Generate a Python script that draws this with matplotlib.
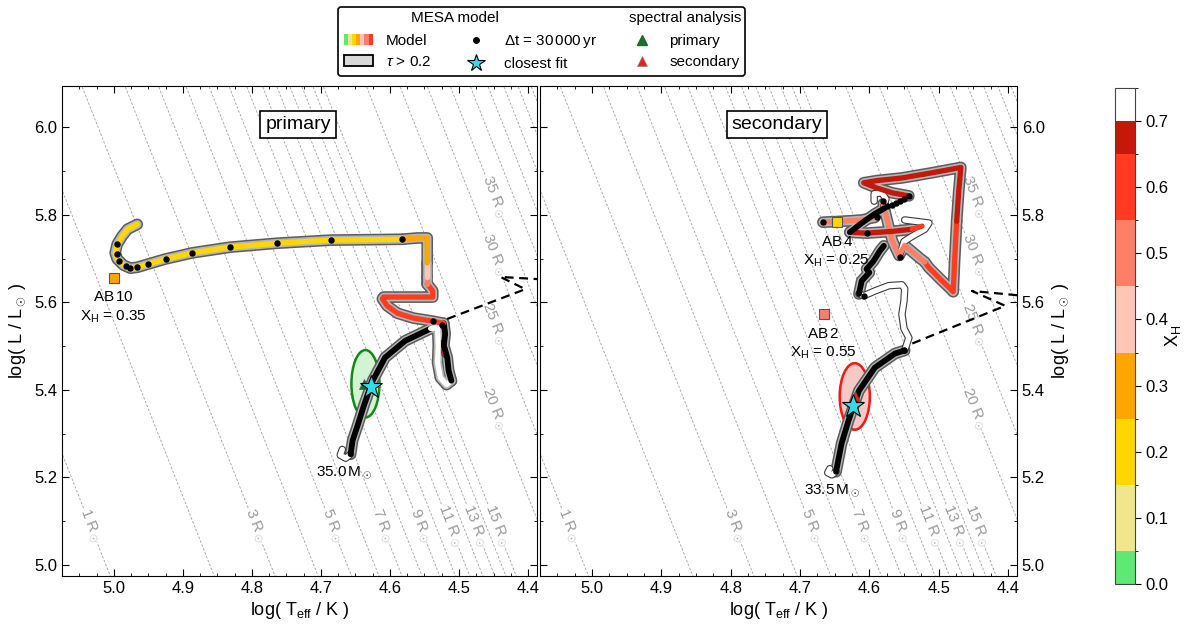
import numpy as np
import matplotlib

matplotlib.use("Agg")
import matplotlib.pyplot as plt
import matplotlib.patheffects as pe
from matplotlib.colors import ListedColormap, BoundaryNorm
from matplotlib.lines import Line2D
from matplotlib.patches import Patch, Ellipse
from matplotlib.legend_handler import HandlerTuple
import matplotlib.colorbar as mcolorbar

plt.rcParams["font.family"] = ["Liberation Sans", "DejaVu Sans"]
plt.rcParams["mathtext.fontset"] = "custom"
plt.rcParams["mathtext.rm"] = "Liberation Sans"
plt.rcParams["mathtext.it"] = "Liberation Sans:italic"
plt.rcParams["mathtext.bf"] = "Liberation Sans:bold"

# ---- colour scale for surface hydrogen X_H ----
XH_EDGES = [0.0, 0.05, 0.15, 0.25, 0.35, 0.45, 0.55, 0.65, 0.70, 0.75]
XH_COLORS = ["#5ee874", "#f0e68c", "#ffd700", "#ffa500", "#ffc6b8",
             "#ff7f66", "#ff3c21", "#c4180a", "#ffffff"]
XH_TICKS = [0.0, 0.1, 0.2, 0.3, 0.4, 0.5, 0.6, 0.7]

# ---- iso-radius lines (R_sun) and which ones get a label ----
RADII = list(range(1, 16)) + [20, 25, 30, 35, 40, 45, 50, 55, 60, 65, 70]
RADII_LABELLED = [1, 3, 5, 7, 9, 11, 13, 15, 20, 25, 30, 35]
LOG_TSUN = 3.7613

# ---- primary track pieces (log Teff, log L) ----
pri_hook_T = [4.669, 4.672, 4.664, 4.657]
pri_hook_L = [5.264, 5.251, 5.244, 5.253]
pri_ms_T = [4.657, 4.654, 4.647, 4.638, 4.625, 4.607, 4.578, 4.541]
pri_ms_L = [5.253, 5.285, 5.318, 5.363, 5.421, 5.474, 5.512, 5.540]
pri_loop_T = [4.541, 4.531, 4.530, 4.531, 4.527, 4.518, 4.511]
pri_loop_L = [5.540, 5.542, 5.501, 5.462, 5.428, 5.412, 5.421]
pri_slow_T = [4.511, 4.515, 4.517, 4.522, 4.520, 4.522]
pri_slow_L = [5.421, 5.444, 5.474, 5.501, 5.528, 5.552]
pri_redbit_T = [4.524, 4.520]
pri_redbit_L = [5.506, 5.481]
pri_red_T = [4.522, 4.538, 4.566, 4.589, 4.604, 4.611, 4.609, 4.580, 4.538, 4.538, 4.546]
pri_red_L = [5.552, 5.557, 5.564, 5.575, 5.592, 5.608, 5.612, 5.612, 5.612, 5.626, 5.642]
pri_salm_T = [4.546, 4.546]
pri_salm_L = [5.642, 5.658]
pri_pink_T = [4.546, 4.546]
pri_pink_L = [5.658, 5.690]
pri_orng_T = [4.546, 4.546, 4.560, 4.582]
pri_orng_L = [5.690, 5.747, 5.747, 5.744]
pri_gold_T = [4.582, 4.686, 4.763, 4.831, 4.886, 4.925, 4.951, 4.966, 4.976,
              4.986, 4.995, 4.998, 4.995, 4.988, 4.980, 4.966]
pri_gold_L = [5.744, 5.742, 5.735, 5.726, 5.713, 5.699, 5.687, 5.680, 5.678,
              5.685, 5.699, 5.713, 5.733, 5.751, 5.767, 5.778]
pri_dot_T = [4.582, 4.686, 4.763, 4.831, 4.886, 4.925, 4.951, 4.966, 4.976,
             4.983, 4.992, 4.995, 4.995, 4.538, 4.524]
pri_dot_L = [5.744, 5.742, 5.735, 5.726, 5.713, 5.699, 5.687, 5.680, 5.678,
             5.683, 5.694, 5.710, 5.733, 5.557, 5.548]
pri_dash_T = [4.517, 4.404, 4.440, 4.386, 4.30]
pri_dash_L = [5.562, 5.630, 5.658, 5.653, 5.653]

# ---- secondary track pieces ----
sec_hook_T = [4.657, 4.660, 4.654, 4.648]
sec_hook_L = [5.220, 5.211, 5.206, 5.213]
sec_ms_T = [4.648, 4.640, 4.630, 4.615, 4.592, 4.563, 4.549]
sec_ms_L = [5.213, 5.278, 5.330, 5.398, 5.451, 5.483, 5.490]
sec_loop_T = [4.549, 4.543, 4.550, 4.553, 4.550, 4.549, 4.553, 4.572, 4.592, 4.608, 4.615]
sec_loop_L = [5.490, 5.519, 5.540, 5.573, 5.603, 5.631, 5.640, 5.638, 5.626, 5.615, 5.619]
sec_slow_T = [4.615, 4.611, 4.600, 4.604, 4.594, 4.585, 4.579]
sec_slow_L = [5.619, 5.649, 5.668, 5.676, 5.694, 5.717, 5.729]
sec_salm_T = [4.667, 4.640, 4.611, 4.592]
sec_salm_L = [5.783, 5.785, 5.788, 5.794]
sec_curve_T = [4.628, 4.611, 4.592, 4.578]
sec_curve_L = [5.760, 5.781, 5.802, 5.815]
sec_dred_T = [4.628, 4.604, 4.567, 4.538]
sec_dred_L = [5.760, 5.758, 5.762, 5.767]
sec_tip_T = [4.538, 4.524]
sec_tip_L = [5.767, 5.774]
sec_white2_T = [4.549, 4.514, 4.520, 4.538, 4.550, 4.553, 4.556]
sec_white2_L = [5.788, 5.781, 5.767, 5.751, 5.739, 5.723, 5.710]
sec_vsalm_T = [4.580, 4.574, 4.567, 4.557, 4.549, 4.528, 4.520]
sec_vsalm_L = [5.825, 5.786, 5.741, 5.707, 5.730, 5.702, 5.692]
sec_vred_T = [4.520, 4.514, 4.495, 4.483, 4.479, 4.477, 4.474]
sec_vred_L = [5.692, 5.679, 5.649, 5.631, 5.624, 5.694, 5.785]
sec_top_T = [4.474, 4.471, 4.468, 4.509, 4.553, 4.589, 4.608, 4.589, 4.567, 4.543]
sec_top_L = [5.785, 5.855, 5.908, 5.896, 5.884, 5.878, 5.873, 5.861, 5.850, 5.843]
sec_white3_T = [4.593, 4.593, 4.582, 4.576, 4.579]
sec_white3_L = [5.831, 5.848, 5.850, 5.836, 5.820]
sec_dot_T = [4.667, 4.604, 4.589, 4.580, 4.556, 4.543, 4.607, 4.550,
             4.574, 4.568, 4.562, 4.556, 4.550]
sec_dot_L = [5.783, 5.758, 5.795, 5.831, 5.704, 5.843, 5.615, 5.490,
             5.820, 5.823, 5.827, 5.831, 5.835]
sec_dash_T = [4.538, 4.404, 4.452, 4.379, 4.30]
sec_dash_L = [5.506, 5.592, 5.626, 5.615, 5.615]

# ---- spectral analysis results ----
# (logT, logL, width, height) of the error ellipse
pri_ell = (4.6355, 5.414, 0.0406, 0.154)
sec_ell = (4.621, 5.385, 0.0435, 0.152)
pri_obs = (4.638, 5.414)
sec_obs = (4.621, 5.387)
pri_fit = (4.627, 5.407)
sec_fit = (4.623, 5.364)
pri_mass = "35.0"
sec_mass = "33.5"
# other stars of the sample: name, logT, logL, X_H
pri_ab = [("AB$\\,$10", 5.000, 5.656, 0.35)]
sec_ab = [("AB$\\,$4", 4.647, 5.783, 0.25), ("AB$\\,$2", 4.666, 5.573, 0.55)]

cmap = ListedColormap(XH_COLORS)
norm = BoundaryNorm(XH_EDGES, cmap.N)


def xh_color(xh):
    # bins are closed on the upper side
    return cmap(norm(xh - 1e-6))


# (T, L, X_H or None for dense dots, halo for tau > 0.2)
pri_pieces = [
    (pri_hook_T, pri_hook_L, 0.72, False),
    (pri_ms_T, pri_ms_L, None, True),
    (pri_loop_T, pri_loop_L, 0.72, True),
    (pri_slow_T, pri_slow_L, None, True),
    (pri_redbit_T, pri_redbit_L, 0.6, False),
    (pri_red_T, pri_red_L, 0.6, True),
    (pri_salm_T, pri_salm_L, 0.5, True),
    (pri_pink_T, pri_pink_L, 0.4, True),
    (pri_orng_T, pri_orng_L, 0.3, True),
    (pri_gold_T, pri_gold_L, 0.2, True),
]
sec_pieces = [
    (sec_hook_T, sec_hook_L, 0.72, False),
    (sec_ms_T, sec_ms_L, None, True),
    (sec_loop_T, sec_loop_L, 0.72, False),
    (sec_slow_T, sec_slow_L, None, True),
    (sec_vred_T, sec_vred_L, 0.6, True),
    (sec_top_T, sec_top_L, 0.68, True),
    (sec_vsalm_T, sec_vsalm_L, 0.5, True),
    (sec_salm_T, sec_salm_L, 0.5, True),
    (sec_dred_T, sec_dred_L, 0.68, True),
    (sec_tip_T, sec_tip_L, 0.6, True),
    (sec_curve_T, sec_curve_L, None, True),
    (sec_white2_T, sec_white2_L, 0.72, False),
    (sec_white3_T, sec_white3_L, 0.72, False),
]

XLIM = (5.075, 4.387)
YLIM = (4.975, 6.094)

fig = plt.figure(figsize=(12, 6.31), dpi=100)
ax1 = fig.add_axes([62 / 1200, 1 - 576 / 631, 475 / 1200, 490 / 631])
ax2 = fig.add_axes([540 / 1200, 1 - 576 / 631, 477 / 1200, 490 / 631])
cax = fig.add_axes([1115 / 1200, 1 - 584 / 631, 20 / 1200, 496 / 631])


def draw_radii(ax):
    for R in RADII:
        lum = np.array([4.5, 6.5])
        teff = (lum - 2 * np.log10(R)) / 4 + LOG_TSUN
        ax.plot(teff, lum, ls=(0, (3, 2)), color="#a0a0a0", lw=0.6, zorder=1)
    for R in RADII_LABELLED:
        if R <= 15:
            lum = 5.09
            teff = (lum - 2 * np.log10(R)) / 4 + LOG_TSUN
        else:
            teff = 4.45
            lum = 4 * (teff - LOG_TSUN) + 2 * np.log10(R)
        p1 = ax.transData.transform((teff, lum))
        p2 = ax.transData.transform((teff - 0.025, lum - 0.1))
        ang = np.degrees(np.arctan2(p2[1] - p1[1], p2[0] - p1[0]))
        ax.text(teff, lum, f"{R} R$_\\odot$", rotation=ang, rotation_mode="anchor",
                ha="center", va="center", color="#9a9a9a", fontsize=11, zorder=1.2,
                bbox=dict(fc="white", ec="none", pad=0.2))


def draw_track(ax, pieces):
    for T, L, xh, halo in pieces:
        if halo:
            ax.plot(T, L, color="#5c5c5c", lw=8.4, solid_capstyle="round",
                    solid_joinstyle="round", zorder=2)
            ax.plot(T, L, color="#b6b6b6", lw=6.2, solid_capstyle="round",
                    solid_joinstyle="round", zorder=2.1)
    for T, L, xh, halo in pieces:
        if xh is None:
            ax.plot(T, L, color="black", lw=4.2, solid_capstyle="round",
                    solid_joinstyle="round", zorder=3)
        elif not halo:
            ax.plot(T, L, color=xh_color(xh), lw=3.8, solid_capstyle="round",
                    solid_joinstyle="round", zorder=2.5,
                    path_effects=[pe.Stroke(linewidth=5.4, foreground="#3a3a3a"), pe.Normal()])
        else:
            ax.plot(T, L, color=xh_color(xh), lw=3.8, solid_capstyle="round",
                    solid_joinstyle="round", zorder=3)


panels = [
    (ax1, "primary", pri_pieces, pri_dot_T, pri_dot_L, pri_dash_T, pri_dash_L,
     pri_ell, pri_obs, pri_fit, pri_mass, pri_hook_T, pri_hook_L, pri_ab,
     "#d3f4d3", "#138a13", "#1d6b2c"),
    (ax2, "secondary", sec_pieces, sec_dot_T, sec_dot_L, sec_dash_T, sec_dash_L,
     sec_ell, sec_obs, sec_fit, sec_mass, sec_hook_T, sec_hook_L, sec_ab,
     "#f6c8c6", "#ee1a14", "#e8231c"),
]

for (ax, title, pieces, dT, dL, sT, sL, ell, obs, fit, mass, hT, hL, abs_,
     efc, eec, tric) in panels:
    ax.set_xlim(*XLIM)
    ax.set_ylim(*YLIM)
    draw_radii(ax)
    draw_track(ax, pieces)
    ax.plot(dT, dL, "o", color="black", ms=3.6, zorder=5)
    ax.plot(sT, sL, color="black", lw=1.6, ls=(0, (4, 2.5)), zorder=3.5)
    ax.add_patch(Ellipse((ell[0], ell[1]), ell[2], ell[3], fc=efc, ec=eec, lw=1.8, zorder=1.5))
    ax.plot(*obs, marker="^", ms=7, color=tric, mec="#555555", mew=0.5, ls="none", zorder=6)
    ax.plot(*fit, marker="*", ms=17, mfc="#30dcea", mec="black", mew=0.8, ls="none", zorder=7)
    ax.annotate(f"{mass}$\\,$M$_\\odot$", (hT[1], hL[1]), xytext=(3, -13),
                textcoords="offset points", ha="center", va="center", fontsize=11, zorder=8)
    for name, T, L, xh in abs_:
        ax.plot(T, L, marker="s", ms=7, mfc=xh_color(xh), mec="#555555", mew=0.8,
                ls="none", zorder=6)
        ax.annotate(name, (T, L), xytext=(0, -14), textcoords="offset points",
                    ha="center", va="center", fontsize=11, zorder=8)
        ax.annotate(f"X$_\\mathrm{{H}}$ = {xh:.2f}", (T, L), xytext=(0, -28),
                    textcoords="offset points", ha="center", va="center", fontsize=11, zorder=8)
    ax.text(0.497, 0.922, title, transform=ax.transAxes, ha="center", va="center",
            fontsize=14, zorder=9,
            bbox=dict(boxstyle="square,pad=0.25", fc="white", ec="black", lw=1.2))
    ax.set_xticks([5.0, 4.9, 4.8, 4.7, 4.6, 4.5, 4.4])
    ax.set_xticks(np.arange(4.4, 5.1, 0.025), minor=True)
    ax.set_yticks([5.0, 5.2, 5.4, 5.6, 5.8, 6.0])
    ax.set_yticks([5.1, 5.3, 5.5, 5.7, 5.9], minor=True)
    ax.xaxis.set_major_formatter(matplotlib.ticker.FormatStrFormatter("%.1f"))
    ax.yaxis.set_major_formatter(matplotlib.ticker.FormatStrFormatter("%.1f"))
    ax.tick_params(which="both", direction="in", top=True, right=True, left=True,
                   bottom=True, labelsize=12)
    ax.tick_params(which="major", length=5)
    ax.tick_params(which="minor", length=2.5)
    ax.set_xlabel("log( T$_\\mathrm{eff}$ / K )", fontsize=13, labelpad=3)
    ax.set_ylabel("log( L / L$_\\odot$ )", fontsize=13)

ax2.tick_params(labelleft=False, labelright=True)
ax2.yaxis.set_label_position("right")

cb = mcolorbar.ColorbarBase(cax, cmap=cmap, norm=norm, boundaries=XH_EDGES,
                            spacing="proportional", ticks=XH_TICKS)
cb.ax.set_yticklabels([f"{t:.1f}" for t in XH_TICKS])
cb.ax.tick_params(labelsize=12, direction="out", length=4)
cb.outline.set_edgecolor("#444444")
cb.set_label("X$_\\mathrm{H}$", fontsize=13, labelpad=-4)

# ---- legend: two rows of entries below a blank title line for the headers ----
model_h = tuple(Patch(fc=c, ec="none") for c in XH_COLORS[:7])
tau_h = Patch(fc="#d9d9d9", ec="black", lw=1.3)
dot_h = Line2D([], [], marker="o", color="black", ms=4, ls="none")
star_h = Line2D([], [], marker="*", mfc="#30dcea", mec="black", mew=0.8, ms=13, ls="none")
prim_h = Line2D([], [], marker="^", color="#1d6b2c", ms=7, ls="none")
seco_h = Line2D([], [], marker="^", color="#e8231c", mec="#888888", mew=0.5, ms=7, ls="none")
handles = [model_h, tau_h, dot_h, star_h, prim_h, seco_h]
labels = ["Model", "$\\tau$ > 0.2", "$\\Delta$t = 30$\\,$000$\\,$yr", "closest fit",
          "primary", "secondary"]
leg = fig.legend(handles, labels, ncol=3, loc="upper center", bbox_to_anchor=(0.4513, 0.989),
                 borderaxespad=0, fontsize=11, title=" ", title_fontsize=11, frameon=True,
                 fancybox=True, edgecolor="black", framealpha=1, handlelength=1.9,
                 handletextpad=0.85, columnspacing=2.0, borderpad=0.35, labelspacing=0.45,
                 handler_map={tuple: HandlerTuple(ndivide=None, pad=0)})
leg.get_frame().set_linewidth(1.2)
fig.text(455 / 1200, 1 - 18 / 631, "MESA model", ha="center", va="center",
         fontsize=11, zorder=10)
fig.text(685 / 1200, 1 - 18 / 631, "spectral analysis", ha="center", va="center",
         fontsize=11, zorder=10)

fig.savefig("out.png", dpi=100)
